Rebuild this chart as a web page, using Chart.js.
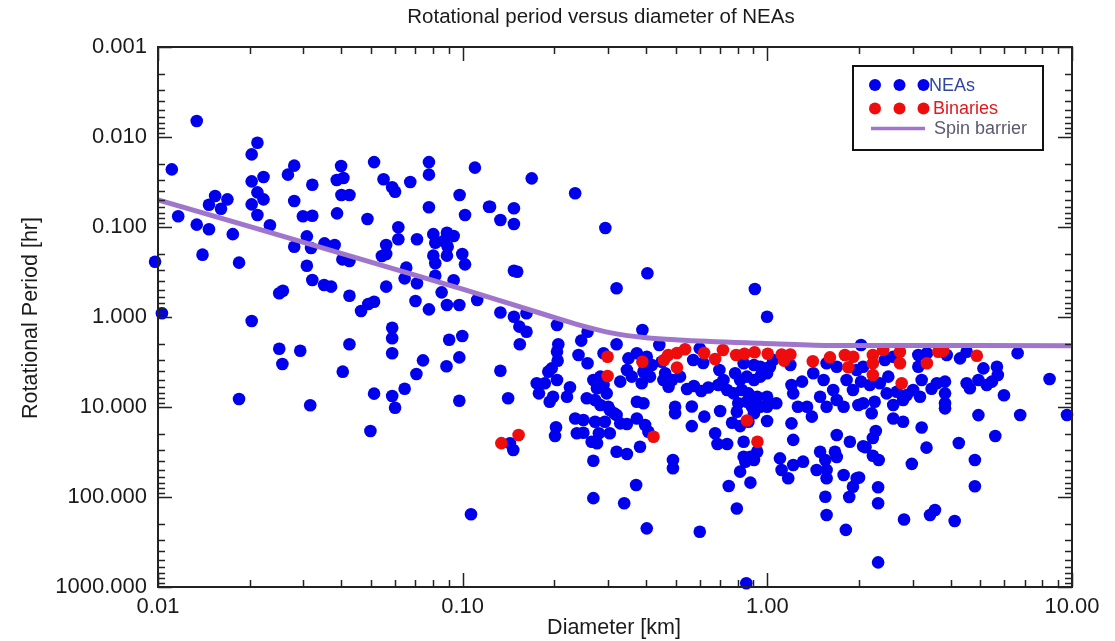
<!DOCTYPE html>
<html><head><meta charset="utf-8">
<script src="https://cdn.jsdelivr.net/npm/chart.js@4.4.0/dist/chart.umd.min.js"></script>
<style>html,body{margin:0;padding:0;background:#fff;}#c{display:block;}</style>
</head><body>
<canvas id="c" width="1115" height="641"></canvas>
<script>
const titleText = 'Rotational period versus diameter of NEAs';
const xTitle = 'Diameter [km]';
const yTitle = 'Rotational Period [hr]';
const xTickValues = [0.01, 0.1, 1, 10];
const xTickLabels = ['0.01', '0.10', '1.00', '10.00'];
const yTickValues = [0.001, 0.01, 0.1, 1, 10, 100, 1000];
const yTickLabels = ['0.001', '0.010', '0.100', '1.000', '10.000', '100.000', '1000.000'];
const legendLabels = ['NEAs', 'Binaries', 'Spin barrier'];

// [diameter km, period hr]
const neas = [
[0.0134,0.00664],[0.0212,0.0116],[0.0203,0.0156],[0.0111,0.0229],[0.0280,0.0208],[0.0267,0.0262],[0.0222,0.0278],[0.0203,0.0311],[0.0321,0.0339],[0.0212,0.0412],
[0.0154,0.0452],[0.0169,0.0493],[0.0222,0.0493],[0.0147,0.0565],[0.0203,0.0560],[0.0280,0.0514],[0.0161,0.0626],[0.0212,0.0735],[0.01165,0.076],[0.0299,0.076],
[0.0321,0.0749],[0.0134,0.0942],[0.0233,0.0958],[0.0147,0.106],[0.0176,0.120],[0.0308,0.127],[0.0280,0.166],[0.0318,0.171],[0.0140,0.203],[0.01845,0.249],
[0.00978,0.243],[0.0103,0.91],[0.0203,1.108],[0.0250,0.545],[0.0257,0.51],[0.0321,0.388],[0.0308,0.269],[0.0351,0.441],[0.0250,2.25],[0.0293,2.37],
[0.0256,3.33],[0.01845,8.15],[0.0316,9.58],[0.0399,0.0210],[0.0512,0.0190],[0.0775,0.0190],[0.0775,0.0262],[0.1097,0.0219],[0.0386,0.0300],[0.0406,0.0286],
[0.0550,0.0295],[0.0587,0.0362],[0.0600,0.0405],[0.0673,0.0316],[0.0400,0.0441],[0.0425,0.0441],[0.0977,0.0441],[0.0775,0.0604],[0.122,0.0595],[0.133,0.0836],
[0.0387,0.0705],[0.0487,0.0815],[0.1018,0.0735],[0.0615,0.1008],[0.0615,0.137],[0.0708,0.137],[0.0801,0.120],[0.0888,0.116],[0.0934,0.126],[0.0813,0.1495],
[0.0866,0.143],[0.0893,0.166],[0.0561,0.1585],[0.0352,0.152],[0.0380,0.1585],[0.0543,0.210],[0.0561,0.1995],[0.0403,0.229],[0.0425,0.239],[0.0801,0.208],
[0.0888,0.208],[0.0997,0.1995],[0.1018,0.26],[0.0813,0.253],[0.0653,0.283],[0.0645,0.372],[0.0708,0.422],[0.0813,0.3475],[0.0934,0.391],[0.0561,0.46],
[0.0370,0.46],[0.0425,0.58],[0.0853,0.532],[0.0464,0.858],[0.0490,0.717],[0.0512,0.676],[0.0700,0.664],[0.0775,0.822],[0.0888,0.735],[0.0975,0.735],
[0.1116,0.647],[0.133,0.891],[0.0587,1.315],[0.0587,1.725],[0.0425,2.01],[0.0903,1.79],[0.0997,1.626],[0.0587,2.53],[0.0741,3.03],[0.0975,2.81],
[0.0885,3.53],[0.0705,4.30],[0.0404,4.05],[0.133,3.95],[0.0645,6.26],[0.0512,7.11],[0.0587,7.55],[0.0600,10.2],[0.0975,8.51],[0.0498,18.5],
[0.1065,155.6],
[0.1685,0.0288],[0.234,0.0422],[0.123,0.0595],[0.1473,0.062],[0.1473,0.0927],[0.294,0.1026],[0.1473,0.306],[0.151,0.314],[0.404,0.327],[0.320,0.48],
[0.1473,0.992],[0.162,0.91],[0.1535,1.28],[0.162,1.46],[0.154,2.01],[0.204,1.227],[0.257,1.46],[0.389,1.395],[0.245,1.83],[0.206,2.01],
[0.204,2.43],[0.320,2.01],[0.442,2.05],[0.240,2.64],[0.257,3.27],[0.205,3.06],[0.196,3.72],[0.191,4.05],[0.350,2.88],[0.373,2.53],
[0.402,2.76],[0.418,3.41],[0.346,3.88],[0.359,4.6],[0.329,5.23],[0.392,4.05],[0.412,4.6],[0.387,5.45],[0.462,4.22],[0.487,5.01],
[0.474,5.95],[0.2685,5.01],[0.283,4.6],[0.276,6.2],[0.290,5.70],[0.297,7.05],[0.175,5.45],[0.186,5.45],[0.204,5.01],[0.178,7.05],
[0.198,7.68],[0.193,8.75],[0.225,6.04],[0.220,7.68],[0.2555,8.0],[0.272,8.36],[0.283,9.5],[0.3005,9.92],[0.141,8.0],[0.373,8.75],
[0.392,9.1],[0.498,9.92],[0.498,11.75],[0.320,12.27],[0.329,15.2],[0.346,15.45],[0.234,13.4],[0.272,14.6],[0.293,14.6],[0.373,13.4],
[0.397,15.85],[0.407,18.8],[0.2025,16.8],[0.201,21.0],[0.237,19.6],[0.249,19.3],[0.280,19.6],[0.304,19.6],[0.265,24.3],[0.276,25.3],
[0.143,25.3],[0.1466,30.0],[0.382,27.6],[0.320,31.4],[0.346,33.3],[0.2685,39.5],[0.490,38.8],[0.490,48.0],[0.371,73.5],[0.2685,103],
[0.339,117.5],[0.402,223],[0.290,2.53],[0.450,3.14],[0.456,5.01],[0.571,3.0],[0.616,3.24],[0.517,4.6],[0.545,6.3],[0.574,5.85],
[0.607,6.64],[0.640,6.08],[0.690,5.70],[0.696,3.88],[0.304,10.8],[0.565,9.87],[0.621,12.8],[0.700,11.08],[0.249,13.95],[0.314,11.75],
[0.565,16.3],[0.674,19.6],[0.686,25.8],[0.738,25.8],[0.600,2.23],[0.718,5.01],[0.738,6.47],[0.784,4.22],[0.814,5.01],[0.857,4.6],
[0.904,5.01],[0.948,4.6],[0.998,4.22],[1.02,3.57],[0.836,3.27],[0.904,3.41],[0.775,7.05],[0.825,6.47],[0.867,7.05],[0.926,7.68],
[0.857,8.75],[0.803,9.1],[0.890,9.92],[0.948,9.92],[0.998,7.68],[0.998,9.92],[0.794,11.3],[0.904,11.75],[0.867,14.6],[0.766,14.95],
[0.814,16.3],[0.998,14.3],[0.836,24.3],[0.836,35.7],[0.880,35.7],[0.926,31.4],[0.847,40.5],[0.904,38.8],[0.814,52.3],[0.880,69.3],
[0.747,75.5],[0.794,134],[0.600,243],[0.853,910],[1.10,37.2],[1.114,50.1],[1.171,62],[1.216,44.1],[1.31,40.5],[1.20,15.2],
[1.216,23.2],[1.20,5.70],[1.216,7.05],[1.30,5.23],[1.26,9.92],[1.35,9.92],[1.40,12.8],[1.415,4.22],[1.53,5.01],[1.49,7.68],
[1.565,9.92],[1.045,3.0],[1.19,3.41],[1.49,31.4],[1.55,38.8],[1.565,50.1],[1.55,99.2],[1.565,158.5],[1.07,9.1],[0.91,0.488],
[0.998,0.992],[2.03,2.05],[0.948,3.57],[1.565,3.27],[1.69,3.57],[1.965,3.88],[1.69,8.36],[1.78,9.92],[1.91,6.47],[1.82,5.01],
[1.645,6.47],[1.99,9.5],[1.69,20.5],[1.866,24.3],[1.667,31.4],[1.69,36],[2.063,27.3],[1.451,50.1],[1.565,62],[1.78,57],
[1.965,62],[1.91,76.8],[1.857,100],[2.063,3.57],[2.03,5.23],[2.43,3.0],[2.59,2.76],[3.13,2.64],[3.34,2.53],[3.13,3.57],
[3.88,2.64],[4.29,2.88],[4.51,2.43],[5.12,3.72],[5.67,3.57],[5.71,4.41],[2.17,5.70],[2.34,5.45],[2.495,4.6],[2.465,7.05],
[2.66,6.76],[2.87,7.35],[3.01,6.47],[3.21,5.01],[3.17,7.68],[3.46,6.26],[3.60,5.45],[3.83,5.23],[4.51,5.45],[4.62,6.2],
[4.93,5.01],[5.25,5.70],[5.46,5.23],[5.98,7.4],[2.063,9.1],[2.25,8.75],[2.20,11.75],[2.59,9.5],[2.79,8.36],[3.83,7.05],
[3.83,9.1],[3.83,10.35],[2.59,13.4],[2.79,14.6],[4.93,12.3],[3.21,16.9],[2.27,18.5],[2.22,22.1],[2.10,28.0],[4.25,25.1],
[5.6,21.0],[3.33,28.3],[2.22,34.8],[2.32,38.8],[2.98,42.8],[4.80,38.8],[2.0,60.8],[2.31,78.0],[4.80,76],[6.63,2.52],
[8.44,4.89],[9.63,12.27],[6.76,12.27],[4.12,185],[3.55,139.5],[3.42,158.5],[2.81,178],[2.31,532],[1.81,232],[2.31,117.5]
];

const binaries = [
[0.299,2.76],[0.299,4.52],[0.389,3.14],[0.458,3.0],[0.473,2.64],[0.505,2.51],[0.537,2.28],[0.505,3.64],[0.423,21.4],[0.134,25.2],
[0.1526,20.5],[0.620,2.51],[0.674,2.93],[0.715,2.33],[0.790,2.64],[0.841,2.56],[0.908,2.46],[1.003,2.56],[1.114,2.61],[1.134,3.05],
[1.19,2.61],[1.41,3.1],[1.605,2.81],[1.797,2.64],[1.914,2.76],[1.844,3.62],[0.857,14.1],[0.928,24.3],[2.22,2.64],[2.40,2.32],
[2.725,2.43],[2.22,3.27],[2.22,4.41],[2.725,3.27],[2.76,5.45],[3.34,3.27],[3.64,2.43],[3.78,2.37],[4.87,2.70]
];

const spinBarrier = [
[0.01,0.050],[0.1,0.49],[0.188,0.95],[0.242,1.23],[0.31,1.51],[0.40,1.70],[0.51,1.80],[0.95,1.96],[1.6,2.07],[10,2.08]
];

const FONT = '"Liberation Sans", Arial, Helvetica, sans-serif';
const BLUE = 'rgb(0,0,238)';
const RED = 'rgb(238,12,12)';
const PURPLE = 'rgb(160,118,204)';
const toXY = arr => arr.map(p => ({x: p[0], y: p[1]}));

const framePlugin = {
  id: 'frame',
  afterDatasetsDraw(chart) {
    const {ctx, chartArea: a, scales} = chart;
    const xs = scales.x, ys = scales.y;
    ctx.save();
    ctx.strokeStyle = '#222';
    ctx.lineWidth = 1.5;
    ctx.beginPath();
    const tickSet = (vals) => {
      const out = [];
      vals.forEach((v, i) => {
        out.push({v, major: true});
        if (i < vals.length - 1) for (let m = 2; m <= 9; m++) out.push({v: v * m, major: false});
      });
      return out;
    };
    tickSet(xTickValues).forEach(t => {
      const px = Math.round(xs.getPixelForValue(t.v)) + 0.5;
      const len = t.major ? 14 : 7;
      ctx.moveTo(px, a.bottom); ctx.lineTo(px, a.bottom - len);
      ctx.moveTo(px, a.top); ctx.lineTo(px, a.top + len);
    });
    tickSet(yTickValues).forEach(t => {
      const py = Math.round(ys.getPixelForValue(t.v)) + 0.5;
      const len = t.major ? 14 : 7;
      ctx.moveTo(a.left, py); ctx.lineTo(a.left + len, py);
      ctx.moveTo(a.right, py); ctx.lineTo(a.right - len, py);
    });
    ctx.stroke();
    ctx.lineWidth = 2;
    ctx.strokeRect(a.left, a.top, a.right - a.left, a.bottom - a.top);
    ctx.restore();
  },
  afterDraw(chart) {
    const {ctx} = chart;
    ctx.save();
    ctx.fillStyle = '#1a1a1a';
    ctx.textAlign = 'center';
    ctx.textBaseline = 'middle';
    ctx.font = '20.5px ' + FONT;
    ctx.fillText(titleText, 601, 17);
    ctx.font = '21.5px ' + FONT;
    ctx.fillText(xTitle, 614, 628);
    ctx.translate(31, 318);
    ctx.rotate(-Math.PI / 2);
    ctx.fillText(yTitle, 0, 0);
    ctx.restore();

    // legend
    ctx.save();
    ctx.fillStyle = '#fff';
    ctx.fillRect(853, 66, 190, 84);
    ctx.strokeStyle = '#111';
    ctx.lineWidth = 2;
    ctx.strokeRect(853, 66, 190, 84);
    const rows = [85, 108.5, 128.5];
    [BLUE, RED].forEach((c, i) => {
      ctx.fillStyle = c;
      [875, 899.5, 923.5].forEach(cx => {
        ctx.beginPath(); ctx.arc(cx, rows[i], 6, 0, Math.PI * 2); ctx.fill();
      });
    });
    ctx.strokeStyle = PURPLE;
    ctx.lineWidth = 3.5;
    ctx.beginPath(); ctx.moveTo(871, rows[2]); ctx.lineTo(925, rows[2]); ctx.stroke();
    ctx.font = '18px ' + FONT;
    ctx.textAlign = 'left';
    ctx.textBaseline = 'middle';
    ctx.fillStyle = 'rgb(48,70,160)';
    ctx.fillText(legendLabels[0], 929, rows[0] + 1);
    ctx.fillStyle = 'rgb(226,24,28)';
    ctx.fillText(legendLabels[1], 933, rows[1] + 1);
    ctx.fillStyle = 'rgb(92,88,112)';
    ctx.fillText(legendLabels[2], 934, rows[2] + 1);
    ctx.restore();
  }
};

Chart.defaults.font.family = FONT;

new Chart(document.getElementById('c'), {
  type: 'scatter',
  data: {
    datasets: [
      {label: legendLabels[2], data: toXY(spinBarrier), showLine: true, borderColor: PURPLE, borderWidth: 5,
       pointRadius: 0, cubicInterpolationMode: 'monotone', fill: false, order: 0},
      {label: legendLabels[1], data: toXY(binaries), backgroundColor: RED, borderWidth: 0, pointRadius: 6.3, order: 1, clip: false},
      {label: legendLabels[0], data: toXY(neas), backgroundColor: BLUE, borderWidth: 0, pointRadius: 6.3, order: 2, clip: false}
    ]
  },
  options: {
    responsive: false,
    animation: false,
    devicePixelRatio: 1,
    layout: {padding: {top: 47, right: 43, left: 0, bottom: 0}},
    plugins: {legend: {display: false}, title: {display: false}, tooltip: {enabled: false}},
    scales: {
      x: {
        type: 'logarithmic', min: 0.01, max: 10, position: 'bottom',
        grid: {display: false, drawTicks: false}, border: {display: false},
        afterFit(s) { s.height = 54; },
        afterBuildTicks(s) { s.ticks = xTickValues.map(v => ({value: v})); },
        ticks: {autoSkip: false, maxRotation: 0, padding: 7, color: '#1a1a1a', font: {size: 22},
          callback: (v, i) => xTickLabels[i]}
      },
      y: {
        type: 'logarithmic', min: 0.001, max: 1000, reverse: true, position: 'left',
        grid: {display: false, drawTicks: false}, border: {display: false},
        afterFit(s) { s.width = 158; },
        afterBuildTicks(s) { s.ticks = yTickValues.map(v => ({value: v})); },
        ticks: {autoSkip: false, padding: 11, color: '#1a1a1a', font: {size: 22},
          callback: (v, i) => yTickLabels[i]}
      }
    }
  },
  plugins: [framePlugin]
});
</script>
</body></html>
